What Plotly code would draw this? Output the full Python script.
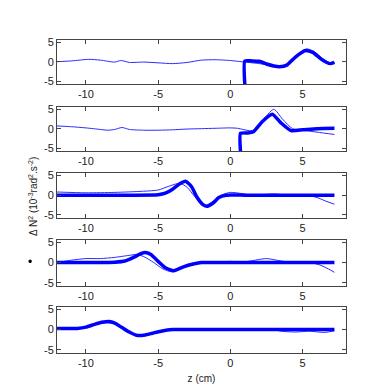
import plotly.graph_objects as go
from plotly.subplots import make_subplots

# ---- panel 1 ----
p1_thin_z = [-12, -11, -9.8, -9, -8, -7.6, -7.3, -7, -6, -5, -4, -3, -2, -1, 0, 0.5, 1, 2, 2.8, 3.4, 4, 4.6, 5.3, 5.8, 6.4, 6.9, 7.2]
p1_thin_v = [0, 0.2, 0.6, 0.4, -0.1, 0.3, 0.1, -0.2, -0.1, -0.3, -0.5, -0.2, 0.4, 0.5, 0.3, 0.1, -0.1, -0.5, -1.0, -1.3, -0.6, 1.8, 3.3, 2.6, 0.8, -0.3, -0.3]
p1_thick_z = [1, 1, 1.5, 2, 2.5, 3, 3.4, 3.9, 4.5, 5.2, 5.7, 6.3, 6.9, 7.2]
p1_thick_v = [-6, 0.2, 0.2, 0.1, -0.6, -1.1, -1.3, -0.9, 1.2, 2.9, 2.4, 0.6, -0.5, -0.2]

# ---- panel 2 ----
p2_thin_z = [-12, -11, -10, -9, -8.5, -8, -7.5, -7, -6, -5, -4, -3, -2, -1, 0, 0.5, 1.5, 2.2, 3, 3.6, 4.3, 5, 6, 7.2]
p2_thin_v = [0.7, 0.5, 0.2, -0.2, -0.4, -0.2, 0.3, -0.2, -0.4, -0.4, -0.3, -0.1, 0, 0.1, 0.2, 0.1, -0.5, 2.0, 5.0, 2.5, 0, -0.4, -0.9, -1.5]
p2_thick_z = [0.7, 0.7, 1.2, 1.6, 2.2, 2.9, 3.5, 4.2, 5, 6, 7.2]
p2_thick_v = [-6, -1.2, -1.1, -0.8, 1.8, 3.7, 1.5, -0.5, -0.3, 0, 0.1]

# ---- panel 3 ----
p3_thin_z = [-12, -10, -8, -6, -5, -4.3, -3.5, -3, -2.5, -1.8, -1.2, -0.5, 0, 0.8, 1.5, 3, 4, 5, 5.5, 6, 6.6, 7.2]
p3_thin_v = [0.8, 0.6, 0.7, 1.0, 1.3, 2.2, 3.0, 2.0, -0.2, -2.7, -1.5, 0.2, 0.7, 0.4, 0, 0.3, 0, 0, -0.2, -0.6, -1.5, -2.3]
p3_thick_z = [-12, -7, -5, -4.5, -4, -3.5, -3.1, -2.7, -2.3, -1.9, -1.6, -1.2, -0.8, -0.3, 1, 4, 7.2]
p3_thick_v = [0, 0, 0.1, 0.5, 1.5, 2.9, 3.5, 2.2, -0.6, -2.4, -2.8, -2.0, -0.6, 0, 0, 0, 0]

# ---- panel 4 ----
p4_thin_z = [-12, -11, -10, -9, -8, -7, -6.5, -6, -5.3, -4.7, -4, -3.3, -2.5, -1.5, 0, 1, 2.5, 3.5, 4.5, 5.5, 6.2, 6.8, 7.2]
p4_thin_v = [0, 0.6, 1.0, 1.0, 1.3, 1.8, 2.0, 1.5, 0, -1.5, -2.3, -1.2, -0.2, 0, 0.3, 0.2, 1.0, 0.4, 0, 0, -0.6, -1.6, -2.4]
p4_thick_z = [-12, -9, -8, -7.3, -6.7, -6.2, -5.9, -5.5, -5, -4.5, -3.9, -3.3, -2.5, -2, 0, 3, 7.2]
p4_thick_v = [0, 0, 0.1, 0.4, 1.3, 2.2, 2.5, 2.0, 0.3, -1.3, -2.0, -1.1, -0.3, 0, 0, 0, 0]

# ---- panel 5 ----
p5_thin_z = [-12, -11, -10, -9.3, -8.6, -8, -7.3, -6.6, -6, -5.2, -4.5, -3, -1, 1, 3, 3.5, 4.5, 5.5, 6.5, 7.2]
p5_thin_v = [0.2, 0.1, 0.5, 1.3, 1.7, 1.4, 0, -1.3, -1.6, -0.9, -0.2, 0.1, 0, 0.1, 0, -0.4, -0.6, -0.4, -0.7, -0.3]
p5_thick_z = [-12, -10.6, -10, -9.4, -8.9, -8.4, -8, -7.5, -7, -6.5, -6, -5.4, -4.8, -4, 0, 7.2]
p5_thick_v = [0.3, 0.3, 0.6, 1.3, 1.8, 2.0, 1.6, 0.5, -0.6, -1.4, -1.4, -0.9, -0.4, 0, 0, 0]

panels = [
    (p1_thin_z, p1_thin_v, p1_thick_z, p1_thick_v),
    (p2_thin_z, p2_thin_v, p2_thick_z, p2_thick_v),
    (p3_thin_z, p3_thin_v, p3_thick_z, p3_thick_v),
    (p4_thin_z, p4_thin_v, p4_thick_z, p4_thick_v),
    (p5_thin_z, p5_thin_v, p5_thick_z, p5_thick_v),
]

x_ticks = [-10, -5, 0, 5]
x_tick_text = ["-10", "-5", "0", "5"]
y_ticks = [-5, 0, 5]
y_tick_text = ["-5", "0", "5"]

fig = make_subplots(rows=5, cols=1)

for i, (tz, tv, kz, kv) in enumerate(panels, start=1):
    fig.add_trace(go.Scatter(x=tz, y=tv, mode="lines",
                             line=dict(color="#2b2bff", width=1, shape="spline", smoothing=0.7)),
                  row=i, col=1)
    fig.add_trace(go.Scatter(x=kz, y=kv, mode="lines",
                             line=dict(color="#0000ff", width=3.5, shape="spline", smoothing=0.5)),
                  row=i, col=1)

domains = [[0.859, 1.0], [0.645, 0.786], [0.431, 0.575], [0.214, 0.361], [0.0, 0.147]]
axis_style = dict(showline=True, linecolor="#444", linewidth=1, mirror="ticks",
                  ticks="inside", ticklen=4, tickcolor="#444", showgrid=False,
                  zeroline=False, tickfont=dict(size=11, color="#222"))

for i in range(1, 6):
    fig.update_xaxes(range=[-12, 8], tickvals=x_ticks, ticktext=x_tick_text,
                     row=i, col=1, **axis_style)
    fig.update_yaxes(range=[-5.8, 5.6], tickvals=y_ticks, ticktext=y_tick_text,
                     domain=domains[i - 1], row=i, col=1, **axis_style)

fig.update_xaxes(title=dict(text="z (cm)", font=dict(size=10, color="#222"), standoff=6),
                 row=5, col=1)

fig.add_annotation(text="Δ N<sup>2</sup> (10<sup>-3</sup>rad<sup>2</sup>.s<sup>-2</sup>)",
                   xref="paper", yref="paper", x=-0.085, y=0.5, xanchor="center",
                   textangle=-90, showarrow=False, font=dict(size=10, color="#222"))
fig.add_annotation(text="•", xref="paper", yref="paper", x=-0.095, y=0.262,
                   xanchor="center", showarrow=False, font=dict(size=12, color="#000"))

fig.update_layout(
    width=374, height=391,
    margin=dict(l=49, r=36, t=32, b=46),
    showlegend=False,
    plot_bgcolor="white", paper_bgcolor="white",
    font=dict(family="Liberation Sans, Arial, sans-serif"),
)

fig.write_html("out.html")
